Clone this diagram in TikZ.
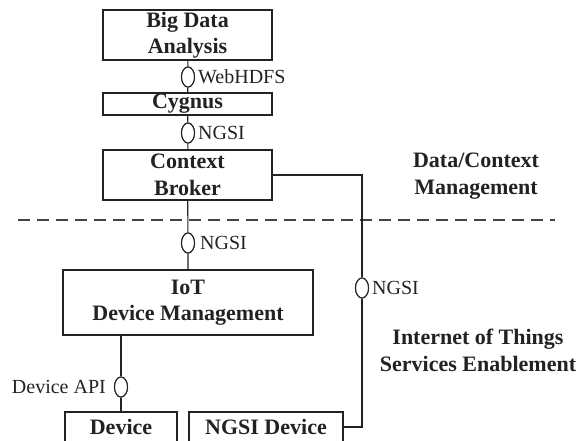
\documentclass[tikz,border=0pt]{standalone}
\usepackage{fontspec}
\setmainfont{Liberation Serif}
\usetikzlibrary{shapes.geometric}
\definecolor{ink}{HTML}{222222}
\tikzset{
  box/.style={draw=ink, line width=1.1pt, inner sep=0pt, align=center, text=ink,
              font=\fontsize{22}{26.5}\selectfont\bfseries},
  iface/.style={draw=ink, fill=white, line width=1.1pt, ellipse, inner sep=0pt,
                minimum width=13pt, minimum height=20pt},
  lbl/.style={text=ink, inner sep=0pt, font=\fontsize{20}{24}\selectfont},
  zone/.style={text=ink, inner sep=0pt, align=center, font=\fontsize{22}{27}\selectfont\bfseries},
  conn/.style={draw=ink, line width=1.1pt},
  divider/.style={draw=ink!85, line width=1.5pt, dash pattern=on 12pt off 7pt}
}
\begin{document}
\begin{tikzpicture}[x=1pt,y=-1pt]
\useasboundingbox (0,0) rectangle (581,441);
\clip (0,0) rectangle (581,441);
% boxes
\node[box, minimum width=169pt, minimum height=50pt] (bigdata) at (187.5,35) {Big Data\\Analysis};
\node[box, minimum width=169pt, minimum height=22pt] (cygnus) at (187.5,104) {Cygnus};
\node[box, minimum width=169pt, minimum height=50pt] (broker) at (187.5,175) {Context\\Broker};
\node[box, minimum width=250pt, minimum height=65pt] (iot) at (188,302.5) {IoT\\Device Management};
\node[box, minimum width=112pt, minimum height=30pt] (device) at (121,427) {Device};
\node[box, minimum width=154pt, minimum height=30pt] (ngsidev) at (266,427) {NGSI Device};
% interfaces
\node[iface] (e1) at (188,77) {};
\node[iface] (e2) at (188,133) {};
\node[iface] (e3) at (188,243) {};
\node[iface] (e4) at (362,288) {};
\node[iface] (e5) at (121,387) {};
% divider
\coordinate (dl) at (18,220);
\coordinate (dr) at (555,220);
\draw[divider] (dl) -- (dr);
% connectors
\draw[conn] (bigdata) -- (e1) -- (cygnus);
\draw[conn] (cygnus) -- (e2) -- (broker);
\draw[conn] (broker) -- (e3) -- (iot);
\draw[conn] (iot.south -| e5) -- (e5) -- (device);
\draw[conn] (broker.east) -- (broker.east -| e4) -- (e4) -- (e4 |- ngsidev.east) -- (ngsidev.east);
% redraw interfaces on top
\node[iface] at (e1) {};
\node[iface] at (e2) {};
\node[iface] at (e3) {};
\node[iface] at (e4) {};
\node[iface] at (e5) {};
% labels
\node[lbl, anchor=west] (l1) at (198,77) {WebHDFS};
\node[lbl, anchor=west] (l2) at (198,133) {NGSI};
\node[lbl, anchor=west] (l3) at (200,243) {NGSI};
\node[lbl, anchor=west] (l4) at (372,288) {NGSI};
\node[lbl, anchor=east] (l5) at (106,387) {Device API};
% zone titles
\node[zone] (z1) at (476,176) {Data/Context\\Management};
\node[zone] (z2) at (478,350) {Internet of Things\\Services Enablement};
\end{tikzpicture}
\end{document}
